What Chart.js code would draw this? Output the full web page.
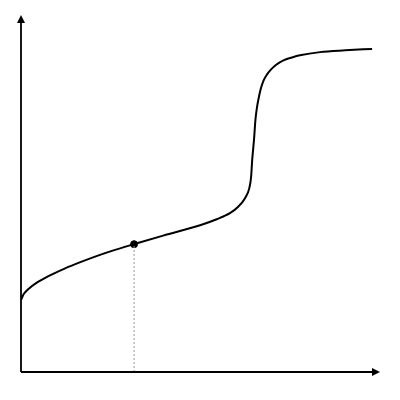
<!DOCTYPE html>
<html>
<head>
<meta charset="utf-8">
<script src="https://cdn.jsdelivr.net/npm/chart.js@4"></script>
<style>
  html, body { margin: 0; padding: 0; background: #fff; }
  #wrap { width: 400px; height: 400px; }
</style>
</head>
<body>
<div id="wrap"><canvas id="c"></canvas></div>
<script>
// curve samples (axis units 0..10)
const curveX = [0, 0.08, 0.20, 0.42, 0.75, 1.20, 1.69, 2.20, 2.62, 3.15, 3.96, 4.99, 5.45, 5.82, 6.05, 6.24, 6.36, 6.41, 6.44, 6.49, 6.53, 6.57, 6.61, 6.67, 6.75, 6.85, 6.96, 7.10, 7.31, 7.55, 7.77, 8.33, 9.03, 9.78];
const curveY = [2.02, 2.19, 2.32, 2.49, 2.68, 2.89, 3.09, 3.28, 3.42, 3.58, 3.82, 4.11, 4.28, 4.45, 4.63, 4.87, 5.15, 5.47, 5.94, 6.50, 7.06, 7.39, 7.62, 7.90, 8.15, 8.33, 8.47, 8.60, 8.73, 8.81, 8.87, 8.96, 9.01, 9.05];

// highlighted point and its drop line
const markX = [3.15];
const markY = [3.58];

const xRange = [0, 10];
const yRange = [0, 10];

const toPoints = (xs, ys) => xs.map((x, i) => ({ x: x, y: ys[i] }));

// -------------------------
// Axes with arrow heads
// -------------------------
const arrowAxes = {
    id: 'arrowAxes',
    afterDraw(chart) {
        const { ctx, scales } = chart;
        const x0 = scales.x.getPixelForValue(xRange[0]);
        const x1 = scales.x.getPixelForValue(xRange[1]);
        const y0 = scales.y.getPixelForValue(yRange[0]);
        const y1 = scales.y.getPixelForValue(yRange[1]);
        ctx.save();
        ctx.strokeStyle = '#000';
        ctx.fillStyle = '#000';
        ctx.lineWidth = 1.8;
        ctx.beginPath();
        ctx.moveTo(x0, y0);
        ctx.lineTo(x1 - 4, y0);
        ctx.moveTo(x0, y0);
        ctx.lineTo(x0, y1 + 4);
        ctx.stroke();
        // x arrow
        ctx.beginPath();
        ctx.moveTo(x1, y0);
        ctx.lineTo(x1 - 8, y0 - 4);
        ctx.lineTo(x1 - 8, y0 + 4);
        ctx.closePath();
        ctx.fill();
        // y arrow
        ctx.beginPath();
        ctx.moveTo(x0, y1);
        ctx.lineTo(x0 - 4, y1 + 8);
        ctx.lineTo(x0 + 4, y1 + 8);
        ctx.closePath();
        ctx.fill();
        ctx.restore();
    }
};

new Chart(document.getElementById('c'), {
    type: 'scatter',
    data: {
        datasets: [{
            label: 'drop',
            data: [{ x: markX[0], y: yRange[0] }, { x: markX[0], y: markY[0] }],
            showLine: true,
            borderColor: '#999',
            borderWidth: 1,
            borderDash: [2, 2],
            pointRadius: 0
        }, {
            label: 'curve',
            data: toPoints(curveX, curveY),
            showLine: true,
            borderColor: '#000',
            borderWidth: 2,
            cubicInterpolationMode: 'monotone',
            pointRadius: 0
        }, {
            label: 'mark',
            data: toPoints(markX, markY),
            pointRadius: 3.5,
            pointBackgroundColor: '#000',
            pointBorderColor: '#000'
        }]
    },
    options: {
        responsive: true,
        maintainAspectRatio: false,
        animation: false,
        layout: { padding: { left: 21, right: 20, top: 15, bottom: 28 } },
        plugins: {
            legend: { display: false },
            tooltip: { enabled: false }
        },
        scales: {
            x: { type: 'linear', min: xRange[0], max: xRange[1], display: false },
            y: { type: 'linear', min: yRange[0], max: yRange[1], display: false }
        }
    },
    plugins: [arrowAxes]
});
</script>
</body>
</html>
